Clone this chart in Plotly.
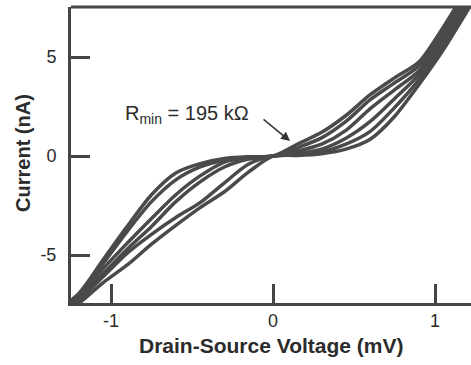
import plotly.graph_objects as go

# Drain-source voltage grid (mV)
voltage = [-1.35, -1.2, -1.05, -0.9, -0.75, -0.6, -0.45, -0.3, -0.15, 0.0,
           0.15, 0.3, 0.45, 0.6, 0.75, 0.9, 1.05, 1.2, 1.3]

# Current (nA) for each I-V trace
current_1 = [-7.9, -6.95, -5.25, -3.55, -1.95, -0.85, -0.38, -0.12, -0.03, 0.0,
             0.6, 1.2, 2.05, 3.1, 3.95, 4.75, 6.5, 8.5, 9.8]
current_2 = [-8.0, -7.05, -5.45, -3.8, -2.3, -1.2, -0.55, -0.2, -0.05, 0.0,
             0.42, 0.92, 1.75, 2.85, 3.7, 4.55, 6.3, 8.3, 9.6]
current_3 = [-8.1, -7.15, -5.7, -4.4, -3.15, -1.95, -1.0, -0.3, -0.08, 0.0,
             0.25, 0.6, 1.3, 2.4, 3.35, 4.3, 6.05, 8.1, 9.4]
current_4 = [-8.15, -7.25, -5.95, -4.7, -3.55, -2.3, -1.3, -0.55, -0.15, 0.0,
             0.12, 0.35, 0.9, 1.75, 2.9, 4.1, 5.8, 7.9, 9.2]
current_5 = [-8.2, -7.3, -6.1, -4.9, -3.95, -3.1, -2.35, -1.35, -0.4, 0.0,
             0.06, 0.2, 0.6, 1.25, 2.45, 3.85, 5.6, 7.6, 9.0]
current_6 = [-8.3, -7.45, -6.4, -5.5, -4.45, -3.5, -2.6, -1.8, -0.8, 0.0,
             0.03, 0.12, 0.35, 0.85, 2.0, 3.6, 5.35, 7.35, 8.7]

traces = [current_1, current_2, current_3, current_4, current_5, current_6]

x_tickvals = [-1, 0, 1]
x_ticktext = ["-1", "0", "1"]
y_tickvals = [-5, 0, 5]
y_ticktext = ["-5", "0", "5"]

x_title = "Drain-Source Voltage (mV)"
y_title = "Current (nA)"
note_text = "R<sub>min</sub> = 195 kΩ"

INK = "#4a4a4a"
AXIS = "#454545"
TEXT = "#2b2b2b"
FONT = "Liberation Sans, Arial, sans-serif"

fig = go.Figure()
for cur in traces:
    fig.add_trace(go.Scatter(
        x=voltage, y=cur, mode="lines",
        line=dict(color=INK, width=3.5, shape="spline", smoothing=0.8),
        hoverinfo="skip", showlegend=False,
    ))

fig.update_layout(
    width=471, height=365,
    margin=dict(l=71, r=0, t=7, b=62),
    paper_bgcolor="white", plot_bgcolor="white",
    showlegend=False,
    font=dict(family=FONT, color=TEXT, size=18),
)

fig.update_xaxes(
    range=[-1.247, 1.222],
    tickvals=x_tickvals, ticktext=x_ticktext,
    ticks="inside", ticklen=19, tickwidth=3, tickcolor=AXIS,
    showline=True, linewidth=3, linecolor=AXIS,
    showgrid=False, zeroline=False,
    tickfont=dict(family=FONT, size=18, color=TEXT),
    ticklabelstandoff=-1,
)
fig.update_yaxes(
    range=[-7.42, 7.53],
    tickvals=y_tickvals, ticktext=y_ticktext,
    ticks="inside", ticklen=19, tickwidth=3, tickcolor=AXIS,
    showline=True, linewidth=3, linecolor=AXIS,
    showgrid=False, zeroline=False,
    tickfont=dict(family=FONT, size=18, color=TEXT),
    ticklabelstandoff=8,
)

# top frame line (the right side of the box falls outside the picture)
fig.add_shape(type="line", xref="paper", yref="paper", x0=0, x1=1, y0=1, y1=1,
              line=dict(color=AXIS, width=3))

# axis titles
fig.add_annotation(text=f"<b>{x_title}</b>", xref="paper", yref="paper",
                   x=0.5, y=-0.142, xanchor="center", yanchor="middle",
                   showarrow=False, font=dict(family=FONT, size=21, color=TEXT))
fig.add_annotation(text=f"<b>{y_title}</b>", xref="paper", yref="paper",
                   x=-0.12, y=0.507, xanchor="center", yanchor="middle",
                   textangle=-90, showarrow=False,
                   font=dict(family=FONT, size=20, color=TEXT))

# R_min label and arrow
fig.add_annotation(text=note_text, x=-0.53, y=2.1, xref="x", yref="y",
                   xanchor="center", yanchor="middle", showarrow=False,
                   font=dict(family=FONT, size=20, color=TEXT))
fig.add_annotation(text="", x=0.105, y=0.76, xref="x", yref="y",
                   ax=-0.068, ay=1.92, axref="x", ayref="y",
                   showarrow=True, arrowhead=2, arrowsize=1.2, arrowwidth=1.5,
                   arrowcolor="#333333")

fig.write_html("out.html")
